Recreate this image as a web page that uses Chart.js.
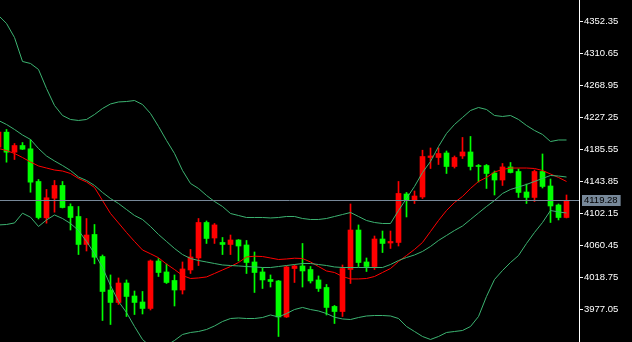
<!DOCTYPE html>
<html lang="en">
<head>
    <meta charset="UTF-8">
    <title>Candles with Bollinger Bands</title>
    <script src="https://cdn.jsdelivr.net/npm/chart.js@4.4.1/dist/chart.umd.min.js"></script>
    <style>
        html, body {
            margin: 0;
            padding: 0;
            background: #000;
        }
        #wrap {
            position: relative;
            width: 632px;
            height: 342px;
        }
    </style>
</head>
<body>
    <div id="wrap">
        <canvas id="chart"></canvas>
    </div>

    <script>
        // OHLC, one entry per bar (leftmost bar is only half visible)
        const opens = [4188.7, 4208.3, 4182.2, 4190.9, 4186.6, 4144.1, 4096.8, 4122.3, 4138.9, 4111.5,
            4098.5, 4062.1, 4075.1, 4046.4, 4002.8, 3986.6, 4011.9, 3995.0, 3987.2, 3978.8,
            4040.6, 4026.3, 4015.2, 4002.8, 4028.9, 4044.5, 4090.7, 4070.5, 4064.7, 4062.1,
            4067.9, 4061.4, 4039.3, 4026.3, 4016.5, 4014.6, 3967.7, 4030.8, 4034.1, 4029.5,
            4015.9, 4006.1, 3981.4, 3974.8, 4029.5, 4080.9, 4039.3, 4033.4, 4069.2, 4064.0,
            4064.7, 4127.8, 4120.0, 4123.9, 4175.3, 4175.3, 4181.2, 4163.6, 4177.3, 4182.5,
            4164.9, 4164.9, 4155.1, 4146.0, 4163.0, 4157.1, 4130.4, 4123.3, 4157.1, 4138.2,
            4113.5, 4097.2];
        const highs = [4210.5, 4211.8, 4193.5, 4194.8, 4198.4, 4146.7, 4133.7, 4145.4, 4144.1, 4115.0,
            4111.5, 4095.9, 4088.1, 4048.4, 4022.4, 4018.5, 4015.9, 4001.5, 4000.9, 4041.9,
            4043.8, 4036.7, 4022.4, 4039.3, 4055.6, 4095.9, 4092.7, 4089.4, 4071.2, 4074.4,
            4068.5, 4067.3, 4052.3, 4031.5, 4022.4, 4015.2, 4034.1, 4035.4, 4063.4, 4033.4,
            4021.1, 4010.0, 3982.7, 4035.4, 4114.8, 4087.5, 4044.5, 4073.1, 4079.6, 4079.6,
            4144.1, 4129.8, 4131.7, 4184.8, 4187.7, 4187.7, 4183.8, 4177.3, 4201.4, 4202.7,
            4166.2, 4166.2, 4157.7, 4167.5, 4168.8, 4160.4, 4140.8, 4159.0, 4179.9, 4147.3,
            4114.8, 4126.5];
        const lows = [4187.0, 4169.2, 4172.7, 4185.7, 4130.1, 4095.3, 4089.8, 4104.1, 4109.6, 4080.9,
            4049.0, 4053.6, 4036.9, 3963.1, 3957.9, 3984.0, 3968.3, 3970.9, 3971.6, 3976.8,
            4020.4, 4011.3, 3982.0, 3997.6, 4024.3, 4034.7, 4063.4, 4063.4, 4049.0, 4049.0,
            4040.6, 4024.3, 3999.6, 4004.8, 4006.7, 3942.3, 3967.0, 4012.6, 4006.7, 4011.9,
            4000.9, 3970.3, 3959.2, 3968.3, 4011.3, 4033.4, 4026.9, 4029.5, 4051.6, 4056.9,
            4060.1, 4097.9, 4115.4, 4121.9, 4161.0, 4166.2, 4154.5, 4161.6, 4174.0, 4159.0,
            4143.4, 4135.0, 4126.5, 4138.9, 4155.2, 4123.3, 4115.4, 4118.0, 4135.6, 4090.7,
            4094.0, 4096.6];
        const closes = [4208.3, 4182.2, 4190.9, 4186.1, 4143.2, 4097.2, 4122.9, 4138.9, 4110.2, 4097.2,
            4062.1, 4074.4, 4045.5, 4000.9, 3986.6, 4011.9, 3994.4, 3986.6, 3978.8, 4040.6,
            4025.6, 4012.6, 4002.8, 4030.2, 4045.8, 4090.7, 4069.9, 4087.5, 4062.1, 4067.9,
            4060.1, 4038.6, 4025.6, 4015.9, 4013.9, 3967.7, 4032.8, 4034.1, 4027.6, 4014.6,
            4004.8, 3980.1, 3974.8, 4030.8, 4080.9, 4038.6, 4033.4, 4069.2, 4063.4, 4066.0,
            4128.5, 4120.0, 4125.2, 4176.6, 4177.3, 4180.5, 4163.6, 4175.3, 4182.5, 4163.6,
            4163.6, 4154.5, 4146.0, 4163.0, 4155.8, 4129.8, 4123.3, 4157.1, 4137.6, 4112.2,
            4097.2, 4119.28];

        // Bollinger bands and the red moving average, read per bar
        const upperBand = [4360.2, 4349.8, 4331.5, 4300.3, 4297.7, 4289.9, 4265.1, 4243.0, 4230.0, 4224.8,
            4223.5, 4224.8, 4231.3, 4239.1, 4245.0, 4247.6, 4248.2, 4249.5, 4244.3, 4232.6,
            4215.7, 4197.5, 4180.5, 4158.4, 4141.5, 4135.0, 4125.9, 4118.0, 4111.5, 4102.4,
            4099.8, 4097.2, 4097.2, 4097.2, 4096.6, 4097.2, 4098.5, 4098.5, 4095.9, 4094.6,
            4094.6, 4095.9, 4098.5, 4101.1, 4103.7, 4098.5, 4093.3, 4090.7, 4089.4, 4089.4,
            4106.3, 4121.9, 4137.6, 4155.8, 4170.1, 4189.6, 4206.6, 4218.3, 4227.4, 4236.5,
            4240.4, 4237.8, 4230.0, 4228.7, 4230.0, 4224.8, 4217.0, 4210.5, 4205.3, 4196.1,
            4198.1, 4198.1];
        const midBand = [4223.5, 4218.3, 4211.8, 4204.6, 4198.8, 4187.0, 4177.3, 4170.8, 4164.9, 4158.4,
            4149.9, 4145.4, 4138.9, 4129.8, 4121.9, 4115.4, 4107.6, 4099.8, 4094.6, 4085.5,
            4075.1, 4066.0, 4056.9, 4049.0, 4043.8, 4041.2, 4039.3, 4037.3, 4035.4, 4034.7,
            4034.1, 4033.4, 4032.8, 4032.1, 4032.1, 4033.4, 4034.7, 4036.0, 4037.3, 4037.3,
            4036.0, 4034.7, 4032.8, 4032.1, 4032.1, 4032.1, 4032.1, 4032.1, 4032.1, 4036.0,
            4041.2, 4045.1, 4048.4, 4053.0, 4059.5, 4067.3, 4073.8, 4080.3, 4086.1, 4094.6,
            4103.1, 4111.5, 4119.3, 4128.5, 4133.7, 4136.9, 4140.2, 4144.1, 4148.0, 4151.9,
            4151.2, 4149.9];
        const lowerBand = [4087.5, 4088.1, 4090.1, 4102.8, 4097.6, 4085.5, 4094.0, 4100.5, 4095.9, 4089.4,
            4080.3, 4066.0, 4050.3, 4032.1, 4008.7, 3987.9, 3973.5, 3955.3, 3938.4, 3929.3,
            3926.7, 3930.6, 3937.1, 3944.9, 3947.5, 3948.8, 3951.4, 3956.0, 3961.8, 3965.7,
            3966.4, 3965.7, 3965.7, 3967.0, 3970.3, 3967.7, 3972.2, 3977.4, 3980.1, 3977.4,
            3975.5, 3972.2, 3967.4, 3965.1, 3964.4, 3967.0, 3969.0, 3969.6, 3969.6, 3969.0,
            3965.7, 3955.3, 3948.8, 3942.3, 3938.4, 3942.3, 3947.5, 3948.8, 3950.1, 3955.3,
            3968.3, 3994.4, 4016.5, 4028.2, 4038.6, 4047.7, 4063.4, 4077.7, 4090.7, 4106.3,
            4104.4, 4103.1];
        const maLine = [4187.0, 4184.4, 4180.5, 4175.3, 4169.5, 4164.3, 4161.6, 4159.0, 4157.7, 4154.5,
            4148.0, 4143.4, 4136.3, 4119.3, 4102.4, 4090.1, 4077.7, 4066.0, 4054.9, 4050.0,
            4044.8, 4036.6, 4029.5, 4021.7, 4017.8, 4018.5, 4019.8, 4024.3, 4028.9, 4033.4,
            4038.6, 4045.8, 4046.8, 4046.4, 4044.5, 4042.5, 4043.2, 4044.2, 4043.8, 4039.3,
            4033.4, 4027.6, 4025.6, 4020.4, 4017.2, 4017.2, 4017.8, 4020.4, 4025.6, 4030.8,
            4039.9, 4047.7, 4055.6, 4064.7, 4079.0, 4093.3, 4106.3, 4116.7, 4124.6, 4135.0,
            4144.1, 4149.3, 4156.4, 4159.7, 4161.6, 4161.6, 4161.6, 4161.0, 4158.4, 4153.8,
            4149.3, 4144.1];

        // Price axis
        const priceTicks = [3977.05, 4018.75, 4060.45, 4102.15, 4143.85, 4185.55, 4227.25, 4268.95, 4310.65, 4352.35];
        const lastPrice = 4119.28;

        const UP = '#ff0000';
        const DOWN = '#00ff00';
        const BAND = '#3cb371';
        const PRICE_LINE = '#778899';

        const candleColors = closes.map((c, i) => c >= opens[i] ? UP : DOWN);
        const asPoints = values => values.map((v, i) => ({ x: i, y: v }));

        // Bid line plus the boxed price on the axis
        const priceLinePlugin = {
            id: 'priceLine',
            afterDatasetsDraw(chart) {
                const { ctx, chartArea } = chart;
                const y = chart.scales.y.getPixelForValue(lastPrice);
                ctx.save();
                ctx.strokeStyle = PRICE_LINE;
                ctx.lineWidth = 1;
                ctx.beginPath();
                ctx.moveTo(chartArea.left, Math.floor(y) + 0.5);
                ctx.lineTo(chartArea.right, Math.floor(y) + 0.5);
                ctx.stroke();
                ctx.restore();
            },
            afterDraw(chart) {
                const { ctx, chartArea } = chart;
                const y = Math.floor(chart.scales.y.getPixelForValue(lastPrice));
                const text = lastPrice.toFixed(2);
                ctx.save();
                ctx.font = '9.5px "Liberation Sans", Arial, sans-serif';
                const w = ctx.measureText(text).width;
                ctx.fillStyle = PRICE_LINE;
                ctx.fillRect(chartArea.right + 3, y - 5, w + 5, 11);
                ctx.fillStyle = '#000';
                ctx.textBaseline = 'middle';
                ctx.fillText(text, chartArea.right + 5, y + 0.5);
                ctx.restore();
            }
        };

        new Chart(document.getElementById('chart'), {
            type: 'bar',
            data: {
                datasets: [
                    {
                        type: 'line',
                        data: asPoints(upperBand),
                        borderColor: BAND,
                        borderWidth: 1,
                        pointRadius: 0,
                        order: 0
                    },
                    {
                        type: 'line',
                        data: asPoints(midBand),
                        borderColor: BAND,
                        borderWidth: 1,
                        pointRadius: 0,
                        order: 0
                    },
                    {
                        type: 'line',
                        data: asPoints(lowerBand),
                        borderColor: BAND,
                        borderWidth: 1,
                        pointRadius: 0,
                        order: 0
                    },
                    {
                        type: 'line',
                        data: asPoints(maLine),
                        borderColor: '#ff0000',
                        borderWidth: 1,
                        pointRadius: 0,
                        order: 0
                    },
                    {
                        // bodies
                        data: opens.map((o, i) => ({ x: i, y: [o, closes[i]] })),
                        backgroundColor: candleColors,
                        barThickness: 5,
                        minBarLength: 1,
                        grouped: false,
                        borderWidth: 0,
                        order: 1
                    },
                    {
                        // wicks
                        data: lows.map((l, i) => ({ x: i, y: [l, highs[i]] })),
                        backgroundColor: candleColors,
                        barThickness: 1,
                        grouped: false,
                        borderWidth: 0,
                        order: 2
                    }
                ]
            },
            options: {
                responsive: true,
                maintainAspectRatio: false,
                animation: false,
                layout: { padding: 0 },
                plugins: {
                    legend: { display: false },
                    tooltip: { enabled: false }
                },
                scales: {
                    x: {
                        type: 'linear',
                        display: false,
                        offset: false,
                        grid: { offset: false },
                        min: 0.1875,
                        max: 72.5625
                    },
                    y: {
                        position: 'right',
                        min: 3935.12,
                        max: 4380.34,
                        afterBuildTicks: scale => {
                            scale.ticks = priceTicks.map(v => ({ value: v }));
                        },
                        afterFit: scale => {
                            // fixed axis strip, no label overhang padding
                            scale.width = 53;
                            scale.paddingTop = 0;
                            scale.paddingBottom = 0;
                        },
                        border: { display: true, color: '#ffffff', width: 1 },
                        grid: {
                            drawOnChartArea: false,
                            drawTicks: true,
                            tickLength: 4,
                            color: '#ffffff'
                        },
                        ticks: {
                            color: '#ffffff',
                            padding: 1,
                            font: { family: 'Liberation Sans', size: 9.5 },
                            callback: v => v.toFixed(2)
                        }
                    }
                }
            },
            plugins: [priceLinePlugin]
        });
    </script>
</body>
</html>
